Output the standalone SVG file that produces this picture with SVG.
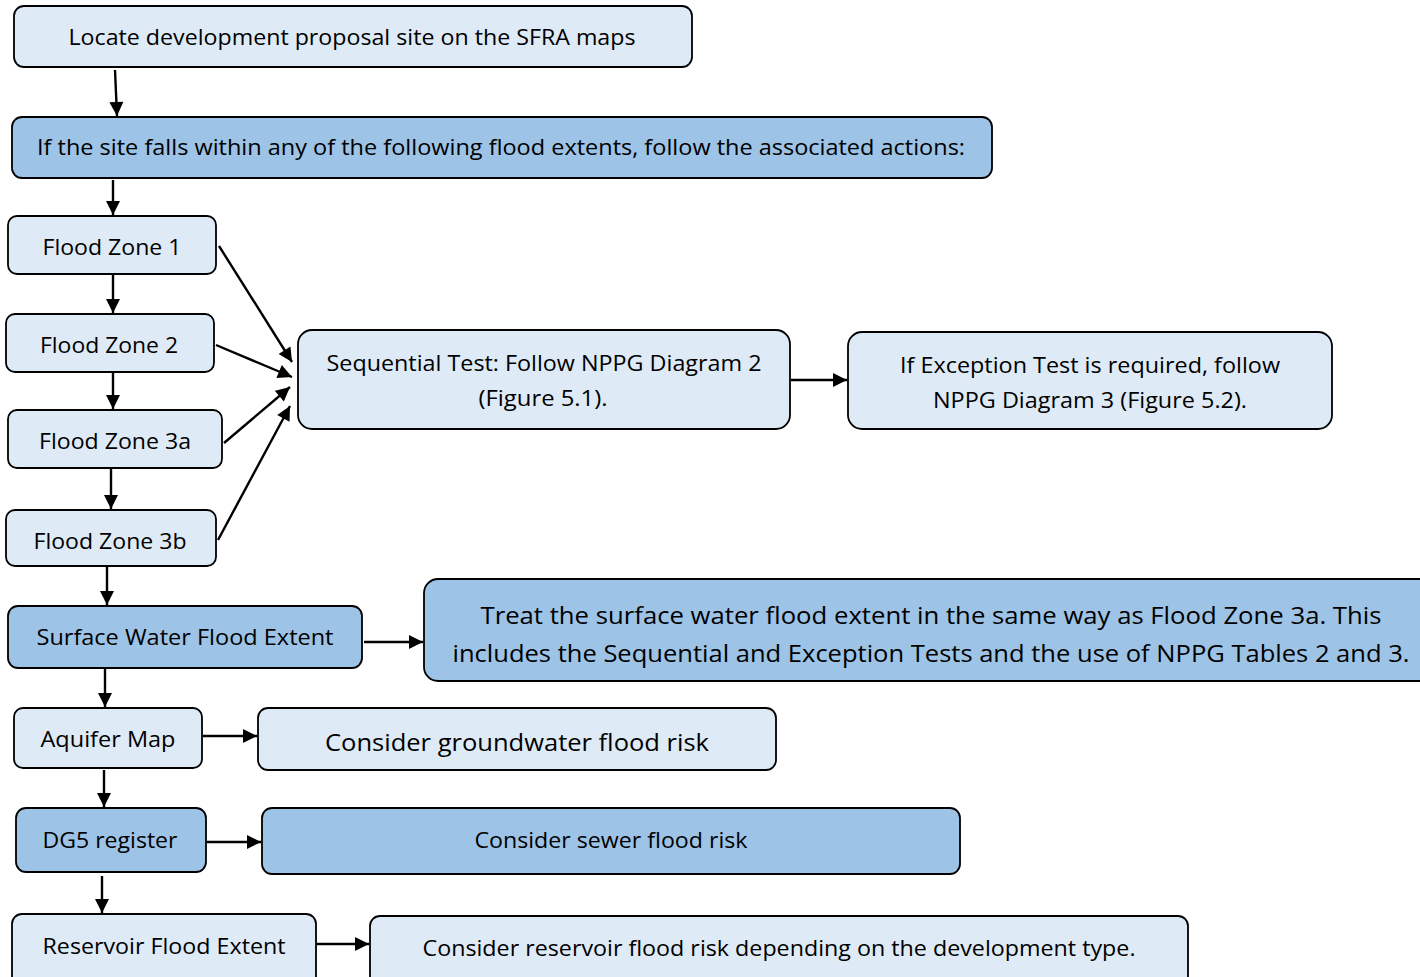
<svg xmlns="http://www.w3.org/2000/svg" width="1420" height="977" viewBox="0 0 1420 977">
<style>
.lt{fill:#deeaf6;stroke:#000;stroke-width:1.8}
.dk{fill:#9dc3e6;stroke:#000;stroke-width:1.8}
text{font-family:"Open Sans","Liberation Sans",sans-serif;font-size:21px;fill:#000;text-anchor:middle;dominant-baseline:central}
.big{font-size:24px}
.c{stroke:#000;stroke-width:2.4;fill:none;marker-end:url(#ah)}
</style>
<defs>
<marker id="ah" viewBox="0 0 10 10" refX="10" refY="5" markerWidth="15" markerHeight="14" markerUnits="userSpaceOnUse" orient="auto">
<path d="M0,0 L10,5 L0,10 z" fill="#000"/>
</marker>
</defs>
<g id="connectors">
<line class="c" x1="115" y1="70" x2="117" y2="116"/>
<line class="c" x1="113" y1="180" x2="113" y2="215"/>
<line class="c" x1="113" y1="275" x2="113" y2="313"/>
<line class="c" x1="113" y1="372" x2="113" y2="409"/>
<line class="c" x1="111" y1="469" x2="111" y2="509"/>
<line class="c" x1="107" y1="567" x2="107" y2="605"/>
<line class="c" x1="105" y1="669" x2="105" y2="707"/>
<line class="c" x1="104" y1="770" x2="104" y2="807"/>
<line class="c" x1="102" y1="876" x2="102" y2="913"/>
<line class="c" x1="219" y1="246" x2="292" y2="362"/>
<line class="c" x1="216" y1="345" x2="292" y2="377"/>
<line class="c" x1="224" y1="443" x2="290" y2="387"/>
<line class="c" x1="218" y1="540" x2="290" y2="406"/>
<line class="c" x1="791" y1="380" x2="847" y2="380"/>
<line class="c" x1="364" y1="642" x2="423" y2="642"/>
<line class="c" x1="203" y1="736" x2="257" y2="736"/>
<line class="c" x1="207" y1="842" x2="261" y2="842"/>
<line class="c" x1="316" y1="944" x2="369" y2="944"/>
</g>
<g id="n1"><rect class="lt" x="14" y="6" width="678" height="61" rx="10"/><text x="352" y="37" textLength="567" lengthAdjust="spacingAndGlyphs">Locate development proposal site on the SFRA maps</text></g>
<g id="n2"><rect class="dk" x="12" y="117" width="980" height="61" rx="10"/><text x="501" y="147" textLength="928" lengthAdjust="spacingAndGlyphs">If the site falls within any of the following flood extents, follow the associated actions:</text></g>
<g id="fz1"><rect class="lt" x="8" y="216" width="208" height="58" rx="9"/><text x="112" y="247" textLength="139" lengthAdjust="spacingAndGlyphs">Flood Zone 1</text></g>
<g id="fz2"><rect class="lt" x="6" y="314" width="208" height="58" rx="9"/><text x="109" y="345" textLength="138" lengthAdjust="spacingAndGlyphs">Flood Zone 2</text></g>
<g id="fz3a"><rect class="lt" x="8" y="410" width="214" height="58" rx="9"/><text x="115" y="441" textLength="152" lengthAdjust="spacingAndGlyphs">Flood Zone 3a</text></g>
<g id="fz3b"><rect class="lt" x="6" y="510" width="210" height="56" rx="9"/><text x="110" y="541" textLength="153" lengthAdjust="spacingAndGlyphs">Flood Zone 3b</text></g>
<g id="seq"><rect class="lt" x="298" y="330" width="492" height="99" rx="14"/><text x="544" y="363" textLength="435" lengthAdjust="spacingAndGlyphs">Sequential Test: Follow NPPG Diagram 2</text><text x="543" y="398" textLength="129" lengthAdjust="spacingAndGlyphs">(Figure 5.1).</text></g>
<g id="exc"><rect class="lt" x="848" y="332" width="484" height="97" rx="14"/><text x="1090" y="365" textLength="380" lengthAdjust="spacingAndGlyphs">If Exception Test is required, follow</text><text x="1090" y="400" textLength="314" lengthAdjust="spacingAndGlyphs">NPPG Diagram 3 (Figure 5.2).</text></g>
<g id="sw"><rect class="dk" x="8" y="606" width="354" height="62" rx="10"/><text x="185" y="637" textLength="297" lengthAdjust="spacingAndGlyphs">Surface Water Flood Extent</text></g>
<g id="treat"><rect class="dk" x="424" y="579" width="1010" height="102" rx="14"/><text class="big" x="931" y="614" textLength="901" lengthAdjust="spacingAndGlyphs">Treat the surface water flood extent in the same way as Flood Zone 3a. This</text><text class="big" x="931" y="652" textLength="957" lengthAdjust="spacingAndGlyphs">includes the Sequential and Exception Tests and the use of NPPG Tables 2 and 3.</text></g>
<g id="aq"><rect class="lt" x="14" y="708" width="188" height="60" rx="9"/><text x="108" y="739" textLength="135" lengthAdjust="spacingAndGlyphs">Aquifer Map</text></g>
<g id="gw"><rect class="lt" x="258" y="708" width="518" height="62" rx="10"/><text class="big" x="517" y="741" textLength="384" lengthAdjust="spacingAndGlyphs">Consider groundwater flood risk</text></g>
<g id="dg5"><rect class="dk" x="16" y="808" width="190" height="64" rx="10"/><text x="110" y="840" textLength="135" lengthAdjust="spacingAndGlyphs">DG5 register</text></g>
<g id="sewer"><rect class="dk" x="262" y="808" width="698" height="66" rx="10"/><text x="611" y="840" textLength="273" lengthAdjust="spacingAndGlyphs">Consider sewer flood risk</text></g>
<g id="res"><rect class="lt" x="12" y="914" width="304" height="80" rx="10"/><text x="164" y="946" textLength="243" lengthAdjust="spacingAndGlyphs">Reservoir Flood Extent</text></g>
<g id="resr"><rect class="lt" x="370" y="916" width="818" height="80" rx="10"/><text x="779" y="948" textLength="713" lengthAdjust="spacingAndGlyphs">Consider reservoir flood risk depending on the development type.</text></g>
</svg>
